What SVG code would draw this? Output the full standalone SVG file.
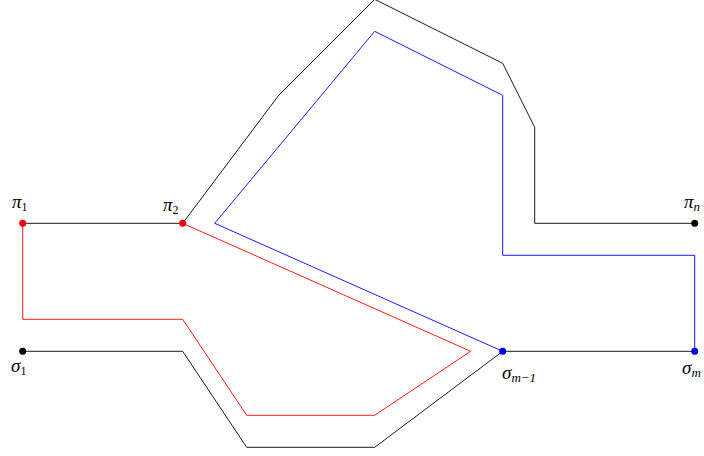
<svg xmlns="http://www.w3.org/2000/svg" width="704" height="456" viewBox="0 0 704 456">
<style>
.k{fill:none;stroke:#000;stroke-width:0.9;stroke-linejoin:miter}
.r{fill:none;stroke:#f00;stroke-width:0.9}
.b{fill:none;stroke:#00f;stroke-width:0.9}
text{font-family:"Liberation Serif","DejaVu Serif",serif;font-style:italic;font-size:19px;fill:#000}
.s{font-size:12px;font-style:normal}
.si{font-size:13px}
</style>
<rect width="704" height="456" fill="#fff"/>
<g id="connectors">
<polyline class="k" points="22.7,223.3 182.7,223.3"/>
<polyline class="k" points="182.7,223.3 278.7,95.3 374.7,-0.7 502.7,63.3 534.7,127.3 534.7,223.3 694.7,223.3"/>
<polyline class="k" points="22.7,351.3 182.7,351.3 246.7,447.3 374.7,447.3 502.7,351.3 694.7,351.3"/>
<polyline class="r" points="22.7,223.3 22.7,319.3 182.7,319.3 246.7,415.3 374.7,415.3 470.7,351.3 182.7,223.3"/>
<polyline class="b" points="502.7,351.3 214.7,223.3 374.7,31.3 502.7,95.3 502.7,255.3 694.7,255.3 694.7,351.3"/>
</g>
<g id="pi1"><circle cx="22.7" cy="223.3" r="3.5" fill="#f00"/><text x="12" y="208">π<tspan class="s" dy="3">1</tspan></text></g>
<g id="pi2"><circle cx="182.7" cy="223.3" r="3.5" fill="#f00"/><text x="163" y="211">π<tspan class="s" dy="3">2</tspan></text></g>
<g id="pin"><circle cx="694.7" cy="223.3" r="3.5" fill="#000"/><text x="684" y="208">π<tspan class="si" dy="3">n</tspan></text></g>
<g id="sigma1"><circle cx="22.7" cy="351.3" r="3.5" fill="#000"/><text x="11" y="372">σ<tspan class="s" dy="3">1</tspan></text></g>
<g id="sigmam1"><circle cx="502.7" cy="351.3" r="3.5" fill="#00f"/><text x="502" y="379">σ<tspan class="si" dy="3">m−1</tspan></text></g>
<g id="sigmam"><circle cx="694.7" cy="351.3" r="3.5" fill="#00f"/><text x="682" y="374">σ<tspan class="si" dy="3">m</tspan></text></g>
</svg>
